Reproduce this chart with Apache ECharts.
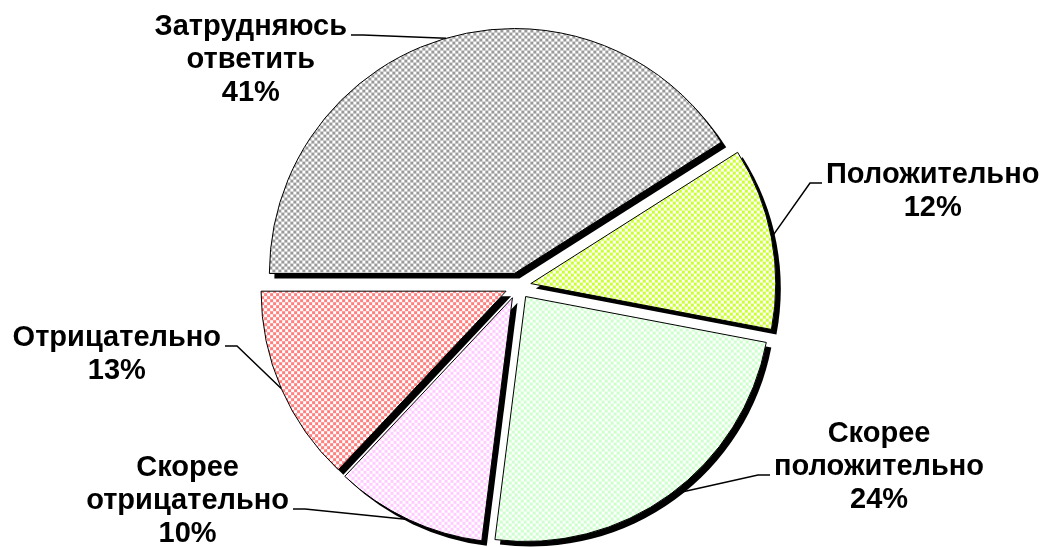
<!DOCTYPE html>
<html>
<head>
<meta charset="utf-8">
<script src="https://cdn.jsdelivr.net/npm/echarts@6/dist/echarts.min.js"></script>
<style>
  html, body { margin: 0; padding: 0; background: #fff; }
  #chart { width: 1047px; height: 547px; }
</style>
</head>
<body>
<div id="chart"></div>
<script>
// данные
const categories = ['Затрудняюсь\nответить', 'Положительно', 'Скорее\nположительно', 'Скорее\nотрицательно', 'Отрицательно'];
const values = [41, 12, 24, 10, 13];
const sliceColors = ['#9a9a9a', '#ccff33', '#ccffcc', '#ffccff', '#ff7f7f'];

// подписи: край текста у выноски, y выноски, строка к которой идет выноска
const labelEdge = [[347, 35, 0], [826, 183, 0], [774, 475, 1], [289, 509, 1], [221, 346, 0]];

const CENTER = [518, 286];
const R = 245;
const EXPLODE = 13;
const LINE_H = 33;

// шахматная штриховка как в Excel
function checker(color) {
  const c = document.createElement('canvas');
  const s = 3;
  c.width = s * 2;
  c.height = s * 2;
  const ctx = c.getContext('2d');
  ctx.fillStyle = '#fff';
  ctx.fillRect(0, 0, s * 2, s * 2);
  ctx.fillStyle = color;
  ctx.fillRect(0, 0, s, s);
  ctx.fillRect(s, s, s, s);
  return c;
}

const chart = echarts.init(document.getElementById('chart'), null, { renderer: 'canvas' });

const basePie = {
  type: 'pie',
  radius: R,
  startAngle: 180,
  clockwise: true,
  selectedMode: 'multiple',
  selectedOffset: EXPLODE,
  silent: true,
  animation: false,
  label: { show: false },
  labelLine: { show: false },
  emphasis: { disabled: true }
};

const option = {
  animation: false,
  series: [
    // тень
    Object.assign({}, basePie, {
      center: [CENTER[0] + 5, CENTER[1] + 5],
      z: 1,
      data: categories.map((name, i) => ({
        name: name, value: values[i], selected: true,
        itemStyle: { color: '#000' }
      }))
    }),
    // сектора
    Object.assign({}, basePie, {
      center: CENTER,
      z: 2,
      itemStyle: { borderColor: '#000', borderWidth: 1 },
      data: categories.map((name, i) => ({
        name: name, value: values[i], selected: true,
        itemStyle: { color: { image: checker(sliceColors[i]), repeat: 'repeat' } }
      }))
    }),
    // подписи с выносками
    {
      type: 'pie',
      center: CENTER,
      radius: R + EXPLODE,
      startAngle: 180,
      clockwise: true,
      selectedMode: false,
      silent: true,
      z: 3,
      avoidLabelOverlap: false,
      itemStyle: { color: 'rgba(0,0,0,0)' },
      label: {
        show: true,
        formatter: p => p.name + '\n' + p.value + '%',
        fontFamily: '"Liberation Sans", Arial, sans-serif',
        fontWeight: 'bold',
        fontSize: 29,
        lineHeight: LINE_H,
        color: '#000'
      },
      labelLine: {
        show: true,
        length: 10,
        length2: 12,
        lineStyle: { color: '#000', width: 1.5 }
      },
      labelLayout: p => {
        const e = labelEdge[p.dataIndex];
        const w = p.labelRect.width;
        const nLines = p.text.split('\n').length;
        const left = e[0] < CENTER[0]; // подпись слева от круга
        const cx = left ? e[0] - w / 2 : e[0] + w / 2;
        const cy = e[1] - 8 - (e[2] - (nLines - 1) / 2) * LINE_H;
        const dir = left ? 1 : -1;
        const end = [e[0] + dir * 4, e[1]];
        const elbow = [e[0] + dir * 16, e[1]];
        const start = p.labelLinePoints ? p.labelLinePoints[0] : elbow;
        return {
          x: cx,
          y: cy,
          align: 'center',
          verticalAlign: 'middle',
          labelLinePoints: [start, elbow, end]
        };
      },
      emphasis: { disabled: true },
      data: categories.map((name, i) => ({ name: name, value: values[i] }))
    }
  ]
};

chart.setOption(option);
</script>
</body>
</html>
